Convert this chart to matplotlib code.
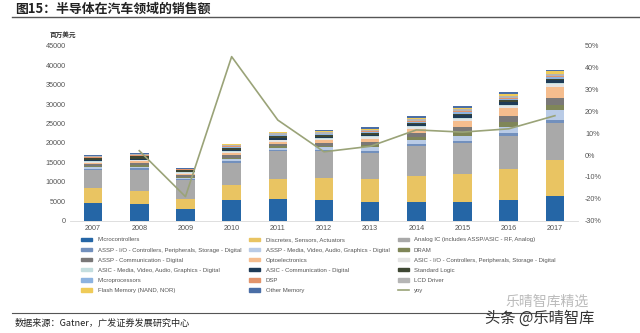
import matplotlib
matplotlib.use("Agg")
import matplotlib.pyplot as plt
from matplotlib.patches import Rectangle
from matplotlib.lines import Line2D
import numpy as np

CJK = ['Noto Sans CJK SC', 'DejaVu Sans']
LAT = ['Liberation Sans', 'DejaVu Sans']

years = ['2007', '2008', '2009', '2010', '2011', '2012', '2013', '2014', '2015', '2016', '2017']

# Sales by segment, millions of US dollars
microcontrollers = [4600, 4300, 3000, 5300, 5700, 5300, 4700, 4900, 4900, 5300, 6400]
discretes        = [3700, 3400, 2600, 3900, 5000, 5600, 6000, 6700, 7100, 7900, 9200]
analog_ic        = [4700, 5400, 4900, 5700, 7100, 6900, 6800, 7500, 7900, 8600, 9500]
assp_io          = [350, 400, 300, 400, 450, 500, 550, 600, 700, 800, 900]
assp_media       = [350, 400, 300, 450, 500, 550, 800, 1000, 1300, 1600, 2400]
dram             = [300, 350, 250, 400, 400, 450, 550, 700, 900, 1100, 1300]
assp_comm        = [550, 600, 400, 700, 700, 750, 900, 1100, 1300, 1500, 1800]
opto             = [350, 400, 300, 450, 500, 600, 800, 1100, 1600, 2200, 2900]
asic_io          = [300, 300, 250, 350, 350, 350, 400, 450, 550, 600, 700]
asic_media       = [150, 150, 100, 150, 150, 150, 200, 200, 250, 250, 300]
asic_comm        = [200, 250, 200, 300, 300, 300, 400, 500, 600, 700, 800]
standard_logic   = [500, 600, 400, 700, 650, 600, 550, 500, 450, 400, 300]
microprocessors  = [150, 150, 100, 150, 150, 150, 200, 250, 300, 350, 400]
dsp              = [150, 150, 100, 200, 200, 200, 200, 250, 250, 300, 300]
lcd_driver       = [200, 200, 100, 250, 300, 300, 350, 400, 500, 500, 600]
flash_memory     = [200, 200, 100, 200, 250, 250, 300, 350, 500, 500, 600]
other_memory     = [150, 150, 100, 200, 200, 250, 300, 300, 400, 400, 400]

yoy = [np.nan, 2.0, -19.0, 45.0, 16.0, 1.5, 4.0, 11.5, 10.5, 12.0, 18.0]

series_names = [
    'Microcontrollers', 'Discretes, Sensors, Actuators', 'Analog IC (includes ASSP/ASIC - RF, Analog)',
    'ASSP - I/O - Controllers, Peripherals, Storage - Digital', 'ASSP - Media, Video, Audio, Graphics - Digital', 'DRAM',
    'ASSP - Communication - Digital', 'Optoelectronics', 'ASIC - I/O - Controllers, Peripherals, Storage - Digital',
    'ASIC - Media, Video, Audio, Graphics - Digital', 'ASIC - Communication - Digital', 'Standard Logic',
    'Microprocessors', 'DSP', 'LCD Driver',
    'Flash Memory (NAND, NOR)', 'Other Memory',
]
series_values = [
    microcontrollers, discretes, analog_ic,
    assp_io, assp_media, dram,
    assp_comm, opto, asic_io,
    asic_media, asic_comm, standard_logic,
    microprocessors, dsp, lcd_driver,
    flash_memory, other_memory,
]
series_colors = [
    '#2566a6', '#e9c462', '#a9a9a9',
    '#7290bd', '#b9cbe6', '#7f8658',
    '#7a7878', '#f5bd8e', '#e4e4e4',
    '#c4dedf', '#1e3b57', '#3e4733',
    '#8db3e0', '#e2946b', '#b5b5b5',
    '#efcb58', '#4a6ea6',
]

fig = plt.figure(figsize=(6.4, 3.33), dpi=100)
W, H = 640, 333
ax = fig.add_axes([70 / W, (H - 220.7) / H, 508 / W, 175 / H])

x = np.arange(len(years))
bottom = np.zeros(len(years))
for vals, col in zip(series_values, series_colors):
    v = np.array(vals, dtype=float)
    ax.bar(x, v, 0.4, bottom=bottom, color=col, edgecolor='none')
    bottom += v

ax.set_xlim(-0.5, len(years) - 0.5)
ax.set_ylim(0, 45000)
ax.set_yticks(np.arange(0, 45001, 5000))
ax.set_xticks(x)
ax.set_xticklabels(years)
for s in ['top', 'right', 'left']:
    ax.spines[s].set_visible(False)
ax.spines['bottom'].set_color('#d9d9d9')
ax.spines['bottom'].set_linewidth(0.6)
ax.tick_params(axis='both', length=0, labelsize=5.2, colors='#555555', pad=3)
for t in ax.get_xticklabels() + ax.get_yticklabels():
    t.set_family(LAT)

ax2 = ax.twinx()
ax2.plot(x, yoy, color='#9aa378', lw=1.2)
ax2.set_ylim(-30, 50)
ax2.set_yticks(np.arange(-30, 51, 10))
ax2.set_yticklabels([f'{v}%' for v in range(-30, 51, 10)])
for s in ax2.spines.values():
    s.set_visible(False)
ax2.tick_params(axis='y', length=0, labelsize=5.2, colors='#555555', pad=5)
for t in ax2.get_yticklabels():
    t.set_family(LAT)

fig.text(50 / W, 1 - 35 / H, '百万美元', family=CJK, fontsize=4.8, color='#333333',
         weight='bold', va='center')

# legend: three columns, filled column by column
order = []
for c in range(3):
    for r in range(6):
        order.append(r * 3 + c)
handles, labels = [], []
for i in order:
    if i < len(series_names):
        handles.append(Rectangle((0, 0), 1, 1, color=series_colors[i]))
        labels.append(series_names[i])
    else:
        handles.append(Line2D([0], [0], color='#9aa378', lw=1.2))
        labels.append('yoy')
leg = fig.legend(handles, labels, ncol=3, loc='upper left',
                 bbox_to_anchor=(76 / W, 1 - 232 / H), frameon=False,
                 prop={'family': LAT, 'size': 4.3}, handlelength=1.8, handleheight=0.5,
                 handletextpad=0.9, labelspacing=0.86, columnspacing=1.4)
for t in leg.get_texts():
    t.set_color('#555555')

# title and rules
fig.text(15 / W, 1 - 9 / H, '图15：半导体在汽车领域的销售额', family=CJK, fontsize=9.3,
         weight='bold', color='#222222', va='center')
fig.add_artist(Line2D([12 / W, 1.0], [1 - 17 / H, 1 - 17 / H], color='#555555', lw=1.0))
fig.add_artist(Line2D([12 / W, 0.86], [1 - 313 / H, 1 - 313 / H], color='#555555', lw=0.8))
fig.text(15 / W, 1 - 323 / H, '数据来源：Gatner，广发证券发展研究中心', family=CJK,
         fontsize=6.6, color='#222222', va='center')

# watermark
fig.text(505 / W, 1 - 302 / H, '乐晴智库精选', family=CJK, fontsize=10, color='#bbbbbb', va='center')
fig.text(540 / W, 1 - 318 / H, '头条 @乐晴智库', family=CJK, fontsize=11, color='#333333',
         va='center', ha='center')

fig.savefig('out.png', dpi=100)
